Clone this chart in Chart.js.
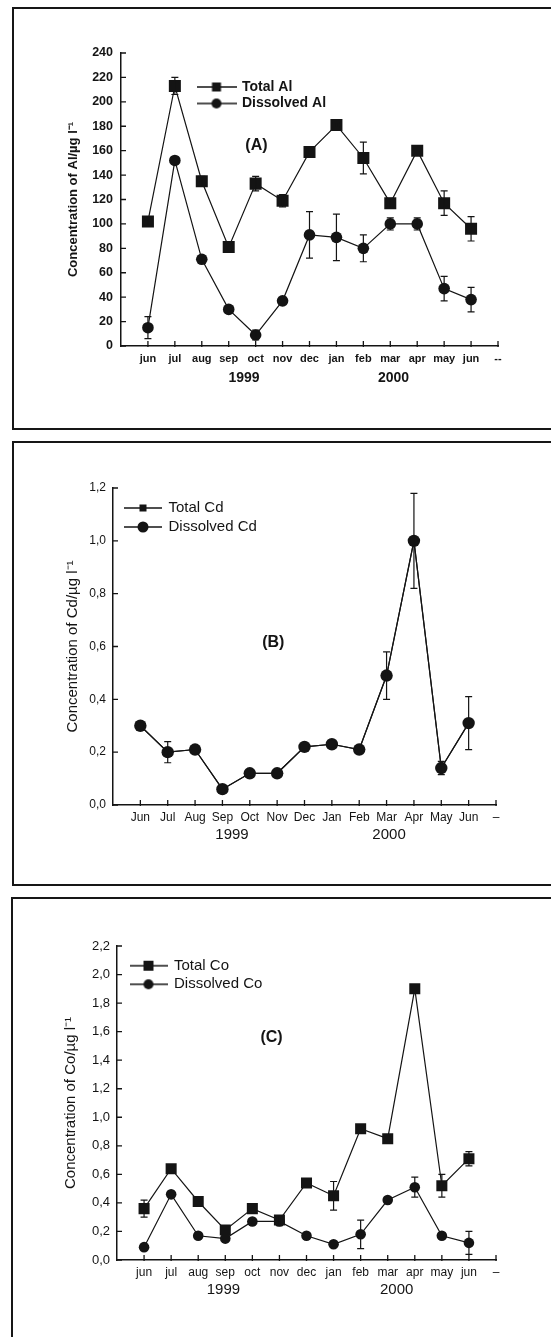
<!DOCTYPE html>
<html><head><meta charset="utf-8">
<script src="https://cdn.jsdelivr.net/npm/chart.js@4.4.1/dist/chart.umd.min.js"></script>
<style>
html,body{margin:0;padding:0;background:#fff;width:551px;height:1337px;overflow:hidden;position:relative;}
.box{position:absolute;border:2px solid #161616;box-sizing:border-box;}
canvas{position:absolute;left:0;}
</style></head><body>
<div class="box" style="left:12px;top:7px;width:560px;height:423px"></div>
<div class="box" style="left:12px;top:441px;width:560px;height:445px"></div>
<div class="box" style="left:11px;top:897px;width:560px;height:500px"></div>
<canvas id="cA" width="551" height="440" style="top:0"></canvas>
<canvas id="cB" width="551" height="450" style="top:440px"></canvas>
<canvas id="cC" width="551" height="447" style="top:890px"></canvas>
<script>
// ---------- DATA ----------
const monthsA = ['jun','jul','aug','sep','oct','nov','dec','jan','feb','mar','apr','may','jun'];
const monthsB = ['Jun','Jul','Aug','Sep','Oct','Nov','Dec','Jan','Feb','Mar','Apr','May','Jun'];
const monthsC = ['jun','jul','aug','sep','oct','nov','dec','jan','feb','mar','apr','may','jun'];
const endLabelA = '--';
const endLabelB = '–';
const endLabelC = '–';
const years = ['1999', '2000'];

const totalAl      = [102, 213, 135, 81, 133, 119, 159, 181, 154, 117, 160, 117, 96];
const totalAlErr   = [3, 7, 4, 0, 6, 5, 3, 2, 13, 4, 0, 10, 10];
const dissolvedAl  = [15, 152, 71, 30, 9, 37, 91, 89, 80, 100, 100, 47, 38];
const dissolvedAlErr = [9, 0, 3, 0, 4, 0, 19, 19, 11, 5, 5, 10, 10];

const totalCd      = [0.30, 0.20, 0.21, 0.06, 0.12, 0.12, 0.22, 0.23, 0.21, 0.49, 1.00, 0.14, 0.31];
const dissolvedCd  = [0.30, 0.20, 0.21, 0.06, 0.12, 0.12, 0.22, 0.23, 0.21, 0.49, 1.00, 0.14, 0.31];
const dissolvedCdErr = [0, 0.04, 0, 0, 0, 0, 0, 0, 0, 0.09, 0.18, 0.025, 0.10];

const totalCo      = [0.36, 0.64, 0.41, 0.21, 0.36, 0.28, 0.54, 0.45, 0.92, 0.85, 1.90, 0.52, 0.71];
const totalCoErr   = [0.06, 0, 0, 0, 0, 0.03, 0, 0.10, 0, 0, 0, 0.08, 0.05];
const dissolvedCo  = [0.09, 0.46, 0.17, 0.15, 0.27, 0.27, 0.17, 0.11, 0.18, 0.42, 0.51, 0.17, 0.12];
const dissolvedCoErr = [0, 0, 0, 0, 0.02, 0.03, 0, 0, 0.10, 0, 0.07, 0, 0.08];

// ---------- HELPERS ----------
const FONT = '"Liberation Sans", Arial, Helvetica, sans-serif';
const INK = '#141414';
const pad = a => [null, ...a, null];
const padE = a => [0, ...a, 0];
const comma = v => Number(v).toFixed(1).replace('.', ',');

function legendIcon(shape, size, w) {
  const c = document.createElement('canvas');
  c.width = w; c.height = 14;
  const g = c.getContext('2d');
  g.strokeStyle = INK; g.lineWidth = 1.3;
  g.beginPath(); g.moveTo(0, 7); g.lineTo(w, 7); g.stroke();
  g.fillStyle = INK;
  if (shape === 'rect') g.fillRect(w / 2 - size / 2, 7 - size / 2, size, size);
  else { g.beginPath(); g.arc(w / 2, 7, size / 2, 0, Math.PI * 2); g.fill(); }
  return c;
}

const errorBars = {
  id: 'errorBars',
  afterDatasetsDraw(chart) {
    const { ctx, scales: { x, y } } = chart;
    ctx.save(); ctx.strokeStyle = INK; ctx.lineWidth = 1.2;
    chart.data.datasets.forEach(ds => {
      if (!ds.errors) return;
      ds.data.forEach((v, i) => {
        const e = ds.errors[i];
        if (v == null || !e) return;
        const px = x.getPixelForValue(i);
        const y1 = y.getPixelForValue(v + e), y2 = y.getPixelForValue(v - e);
        ctx.beginPath();
        ctx.moveTo(px, y1); ctx.lineTo(px, y2);
        ctx.moveTo(px - 3.5, y1); ctx.lineTo(px + 3.5, y1);
        ctx.moveTo(px - 3.5, y2); ctx.lineTo(px + 3.5, y2);
        ctx.stroke();
      });
    });
    ctx.restore();
  }
};

function build(id, P) {
  const labels = ['', ...P.months, P.endLabel];
  const plugins = [errorBars, {
    id: 'legendPos',
    afterLayout(chart) {
      const lg = chart.legend; if (!lg) return;
      const dx = (P.legX - P.legPad) - lg.left, dy = (P.legY - P.legPad) - lg.top;
      lg.left += dx; lg.right += dx; lg.top += dy; lg.bottom += dy;
    }
  }, {
    id: 'decor',
    afterDraw(chart) {
      const { ctx, scales: { x, y }, chartArea: a } = chart;
      ctx.save(); ctx.strokeStyle = INK; ctx.lineWidth = 1.3;
      ctx.beginPath();
      for (let i = 1; i < labels.length; i++) {
        const px = x.getPixelForValue(i);
        ctx.moveTo(px, a.bottom + 1); ctx.lineTo(px, a.bottom - 5);
      }
      y.ticks.forEach(t => {
        const py = y.getPixelForValue(t.value);
        ctx.moveTo(a.left - 1, py); ctx.lineTo(a.left + 5, py);
      });
      ctx.stroke();
      ctx.fillStyle = INK; ctx.textAlign = 'center'; ctx.textBaseline = 'middle';
      ctx.font = P.yearFont;
      years.forEach((t, k) => ctx.fillText(t, x.getPixelForValue(P.yearIdx[k]), P.yearY));
      ctx.font = 'bold 16px ' + FONT;
      ctx.fillText(P.panel, x.getPixelForValue(P.panelIdx), y.getPixelForValue(P.panelVal));
      ctx.restore();
    }
  }];
  return new Chart(document.getElementById(id), {
    type: 'line',
    data: { labels, datasets: P.datasets },
    plugins,
    options: {
      responsive: false, animation: false, events: [], devicePixelRatio: 1,
      layout: { padding: { left: 0, top: P.area.t, right: 551 - P.area.r, bottom: 0 } },
      plugins: {
        tooltip: { enabled: false },
        legend: {
          display: true, position: 'chartArea', align: 'start',
          labels: {
            usePointStyle: true, pointStyleWidth: P.psw, padding: P.legPad,
            font: P.legFont, color: INK,
            generateLabels: chart => chart.data.datasets.map((ds, i) => ({
              text: ds.label, datasetIndex: i, pointStyle: P.icons[i], hidden: false,
              fontColor: INK, lineWidth: 0, strokeStyle: 'rgba(0,0,0,0)', fillStyle: 'rgba(0,0,0,0)'
            }))
          }
        }
      },
      scales: {
        x: {
          type: 'category', offset: false,
          grid: { display: false, drawTicks: false },
          border: { display: true, color: INK, width: 1.5 },
          ticks: { autoSkip: false, maxRotation: 0, minRotation: 0, padding: P.xPad, font: P.xFont, color: INK },
          afterFit(s) { s.height = P.H - P.area.b; }
        },
        y: {
          min: P.yMin, max: P.yMax,
          grid: { display: false, drawTicks: false },
          border: { display: true, color: INK, width: 1.5 },
          ticks: { stepSize: P.step, padding: P.yPad, font: P.yFont, color: INK, callback: P.fmt },
          title: { display: true, text: P.title, font: P.titleFont, color: INK, padding: { top: P.titlePad, bottom: 0 } },
          afterFit(s) { s.width = P.area.l; }
        }
      }
    }
  });
}

function ds(label, data, errs, style, r) {
  return {
    label, data: pad(data), errors: errs ? padE(errs) : null,
    borderColor: INK, borderWidth: 1.2, tension: 0, fill: false,
    pointStyle: style, pointRadius: r, pointBackgroundColor: INK, pointBorderColor: INK, pointBorderWidth: 0
  };
}

// ---------- PANEL A ----------
build('cA', {
  months: monthsA, endLabel: endLabelA, H: 440,
  area: { l: 121, r: 498, t: 53, b: 346 },
  yMin: 0, yMax: 240, step: 20, fmt: v => String(v),
  datasets: [ds('Total Al', totalAl, totalAlErr, 'rect', 8.5), ds('Dissolved Al', dissolvedAl, dissolvedAlErr, 'circle', 5.8)],
  icons: [legendIcon('rect', 9, 40), legendIcon('circle', 10, 40)], psw: 37,
  legX: 198, legY: 80, legPad: 2.5, legFont: { family: FONT, size: 14, weight: 'bold' },
  xFont: { family: FONT, size: 11, weight: 'bold' }, xPad: 6.4,
  yFont: { family: FONT, size: 12.5, weight: 'bold' }, yPad: 8,
  title: 'Concentration of Al/µg l⁻¹', titleFont: { family: FONT, size: 13, weight: 'bold' }, titlePad: 66,
  yearFont: 'bold 14px ' + FONT, yearIdx: [4.57, 10.12], yearY: 378,
  panel: '(A)', panelIdx: 5.03, panelVal: 164
});

// ---------- PANEL B ----------
build('cB', {
  months: monthsB, endLabel: endLabelB, H: 450,
  area: { l: 113, r: 496, t: 48, b: 365 },
  yMin: 0, yMax: 1.2, step: 0.2, fmt: comma,
  datasets: [ds('Total Cd', totalCd, null, 'rect', 5), ds('Dissolved Cd', dissolvedCd, dissolvedCdErr, 'circle', 6.2)],
  icons: [legendIcon('rect', 7, 38), legendIcon('circle', 11, 38)], psw: 36,
  legX: 125, legY: 60.5, legPad: 4, legFont: { family: FONT, size: 15 },
  xFont: { family: FONT, size: 12 }, xPad: 5.8,
  yFont: { family: FONT, size: 12 }, yPad: 7,
  title: 'Concentration of Cd/µg l⁻¹', titleFont: { family: FONT, size: 15 }, titlePad: 64,
  yearFont: '15px ' + FONT, yearIdx: [4.35, 10.09], yearY: 395,
  panel: '(B)', panelIdx: 5.86, panelVal: 0.613
});

// ---------- PANEL C ----------
build('cC', {
  months: monthsC, endLabel: endLabelC, H: 447,
  area: { l: 117, r: 496, t: 56, b: 370 },
  yMin: 0, yMax: 2.2, step: 0.2, fmt: comma,
  datasets: [ds('Total Co', totalCo, totalCoErr, 'rect', 7.8), ds('Dissolved Co', dissolvedCo, dissolvedCoErr, 'circle', 5.3)],
  icons: [legendIcon('rect', 10, 38), legendIcon('circle', 10, 38)], psw: 36,
  legX: 130.5, legY: 68.2, legPad: 3.6, legFont: { family: FONT, size: 15 },
  xFont: { family: FONT, size: 12 }, xPad: 5.8,
  yFont: { family: FONT, size: 13 }, yPad: 7,
  title: 'Concentration of Co/µg l⁻¹', titleFont: { family: FONT, size: 15 }, titlePad: 62,
  yearFont: '15px ' + FONT, yearIdx: [3.93, 10.33], yearY: 400,
  panel: '(C)', panelIdx: 5.71, panelVal: 1.56
});
</script>
</body></html>
